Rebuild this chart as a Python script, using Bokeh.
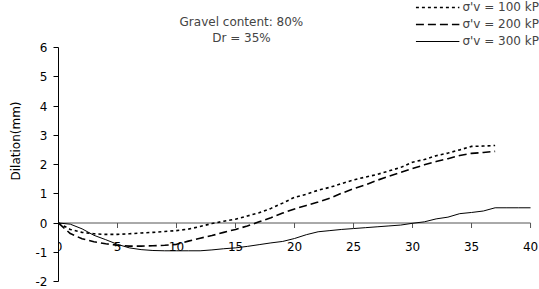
from bokeh.plotting import figure
from bokeh.models import (LinearAxis, FixedTicker, Range1d, Legend, LegendItem, Label)
from bokeh.core.properties import value
from bokeh.embed import file_html
from bokeh.resources import INLINE

# ---- data ----
x100 = list(range(0, 38))
y100 = [0, -0.22, -0.32, -0.37, -0.39, -0.39, -0.37, -0.34, -0.32, -0.29,
        -0.26, -0.21, -0.12, -0.02, 0.06, 0.13, 0.24, 0.35, 0.5, 0.68,
        0.88, 0.98, 1.12, 1.22, 1.35, 1.47, 1.57, 1.66, 1.78, 1.9,
        2.08, 2.17, 2.3, 2.39, 2.5, 2.62, 2.63, 2.65]
x200 = list(range(0, 38))
y200 = [0, -0.36, -0.54, -0.64, -0.71, -0.76, -0.79, -0.79, -0.78, -0.76,
        -0.73, -0.62, -0.52, -0.43, -0.32, -0.22, -0.1, 0.04, 0.18, 0.34,
        0.48, 0.6, 0.72, 0.85, 1.02, 1.17, 1.3, 1.46, 1.6, 1.73,
        1.86, 1.99, 2.1, 2.2, 2.31, 2.38, 2.41, 2.45]
x300 = list(range(0, 41))
y300 = [0, -0.04, -0.2, -0.42, -0.57, -0.73, -0.85, -0.91, -0.94, -0.95,
        -0.95, -0.95, -0.95, -0.92, -0.88, -0.85, -0.8, -0.74, -0.68, -0.63,
        -0.53, -0.4, -0.3, -0.26, -0.22, -0.19, -0.16, -0.13, -0.1, -0.07,
        -0.01, 0.04, 0.14, 0.2, 0.32, 0.36, 0.41, 0.52, 0.52, 0.52, 0.52]
series_labels = ["σ'v = 100 kP", "σ'v = 200 kP", "σ'v = 300 kP"]
xticks = [0, 5, 10, 15, 20, 25, 30, 35, 40]
xtick_labels = ["0", "5", "10", "15", "20", "25", "30", "35", "40"]
yticks = [-2, -1, 0, 1, 2, 3, 4, 5, 6]
ytick_labels = ["-2", "-1", "0", "1", "2", "3", "4", "5", "6"]
title_lines = ["Gravel content: 80%", "Dr = 35%"]
y_label = "Dilation(mm)"

FONT = "DejaVu Sans"
FS = "12px"

p = figure(width=539, height=289, output_backend="svg", toolbar_location=None,
           x_axis_type=None, y_axis_type=None,
           x_range=Range1d(0, 40.76), y_range=Range1d(-2, 7.607),
           min_border_left=58, min_border_right=0, min_border_top=0, min_border_bottom=8)
p.outline_line_color = None
p.grid.visible = False
p.background_fill_color = "white"

# y axis
yax = LinearAxis(ticker=FixedTicker(ticks=yticks), bounds=(yticks[0], yticks[-1]))
yax.major_label_overrides = {t: s for t, s in zip(yticks, ytick_labels)}
yax.major_tick_out = 5
yax.major_tick_in = 0
yax.minor_tick_out = 0
yax.minor_tick_in = 0
yax.major_label_standoff = 6
yax.major_label_text_font = FONT
yax.major_label_text_font_size = FS
yax.major_label_text_color = "black"
yax.axis_line_color = "black"
yax.major_tick_line_color = "black"
yax.axis_label = y_label
yax.axis_label_standoff = 10
yax.axis_label_text_font = FONT
yax.axis_label_text_font_size = FS
yax.axis_label_text_font_style = "normal"
yax.axis_label_text_color = "black"
p.add_layout(yax, "left")

# x axis drawn at y = 0
tick_len = 5 / 29.25
p.segment(x0=xticks[0], y0=0, x1=xticks[-1], y1=0, line_color="#555555", line_width=1)
p.segment(x0=xticks, y0=[0] * len(xticks), x1=xticks, y1=[-tick_len] * len(xticks),
          line_color="#555555", line_width=1)
p.text(x=xticks, y=[0] * len(xticks), text=xtick_labels, y_offset=23,
       text_align="center", text_baseline="alphabetic",
       text_font=value(FONT), text_font_size=FS, text_color="black")

# series
r1 = p.line(x100, y100, line_color="black", line_width=1.6, line_dash="3 3")
r2 = p.line(x200, y200, line_color="black", line_width=1.6, line_dash="8 4")
r3 = p.line(x300, y300, line_color="black", line_width=1)

legend = Legend(items=[LegendItem(label=series_labels[0], renderers=[r1]),
                       LegendItem(label=series_labels[1], renderers=[r2]),
                       LegendItem(label=series_labels[2], renderers=[r3])],
                location="top_right", margin=0, padding=0, spacing=3,
                label_height=14, glyph_height=14, glyph_width=44, label_standoff=3,
                border_line_color=None, background_fill_alpha=0,
                label_text_font=FONT, label_text_font_size=FS)
p.add_layout(legend)

# title lines
p.add_layout(Label(x=15.5, y=6.855, text=title_lines[0], text_align="center",
                   text_baseline="alphabetic", text_font=FONT, text_font_size=FS))
p.add_layout(Label(x=15.5, y=6.342, text=title_lines[1], text_align="center",
                   text_baseline="alphabetic", text_font=FONT, text_font_size=FS))

open("out.html", "w").write(file_html(p, INLINE))
